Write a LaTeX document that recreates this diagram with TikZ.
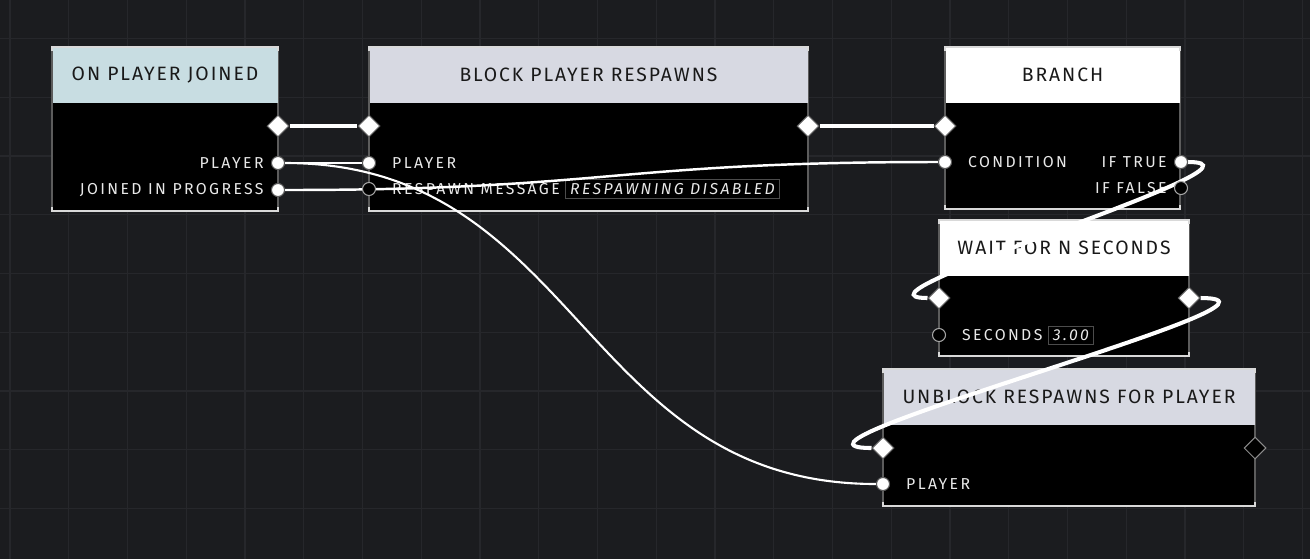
\documentclass[tikz,border=0pt]{standalone}
\usepackage{fontspec}
\setmainfont{Fira Sans}
\newfontfamily\headfont[LetterSpace=10]{Fira Sans}
\newfontfamily\pinfont[LetterSpace=15]{Fira Sans}
\usetikzlibrary{shapes.geometric,positioning}

\definecolor{canvas}{RGB}{27,28,31}
\definecolor{gridcol}{RGB}{38,39,43}
\definecolor{headblue}{RGB}{200,221,226}
\definecolor{headgrey}{RGB}{215,217,226}
\definecolor{rimgrey}{RGB}{92,92,92}
\definecolor{pintext}{RGB}{232,232,232}

\pgfdeclarelayer{pinlayer}
\pgfsetlayers{main,pinlayer}

\def\pu{0.02cm}
\def\headh{56}
\tikzset{
  blockbody/.style n args={2}{
    rectangle,
    fill=black,
    draw=rimgrey,
    line width=0.6pt,
    minimum width=#1*\pu,
    minimum height=#2*\pu,
    inner sep=0pt,
    outer sep=0pt,
  },
  blockhead/.style={
    rectangle,
    fill=#1,
    minimum height=\headh*\pu,
    inner sep=0pt,
    outer sep=0pt,
    anchor=north,
    text=black!90,
    font=\headfont\fontsize{11}{12}\selectfont,
  },
  rim/.style={white!85!black, line width=0.9pt},
}
\tikzset{
  execpin/.style={
    diamond,
    minimum size=12.5pt,
    inner sep=0pt,
    fill=white,
    draw=rimgrey,
    line width=0.6pt,
  },
  execfree/.style={execpin, fill=black, draw=white!55!black},
  datapin/.style={
    circle,
    minimum size=7.4pt,
    inner sep=0pt,
    fill=white,
    draw=rimgrey,
    line width=0.6pt,
  },
  datafree/.style={datapin, fill=black, draw=white!65!black},
  pinlabel/.style={
    inner sep=0pt,
    text=pintext,
    font=\pinfont\fontsize{9}{10}\selectfont,
  },
  valuebox/.style={
    draw=white!30!black,
    fill=black,
    line width=0.5pt,
    inner xsep=2.5pt,
    inner ysep=2pt,
    text=pintext,
    font=\pinfont\itshape\fontsize{9}{10}\selectfont,
  },
  execwire/.style={white, line width=2.3pt},
  datawire/.style={white, line width=1.4pt},
}

\begin{document}
\begin{tikzpicture}[x=\pu, y=-\pu]
    \useasboundingbox (0,0) rectangle (1310,559);
    \fill[canvas] (0,0) rectangle (1310,559);
    %% Grid
    \foreach \gx in {0,...,22}
        \draw[gridcol, line width=0.6pt] ({10+58.75*\gx},0) -- ({10+58.75*\gx},559);
    \foreach \gy in {0,...,8}
        \draw[gridcol, line width=0.6pt] (0,{38.5+58.75*\gy}) -- (1310,{38.5+58.75*\gy});

    %% Blocks
    \node[blockbody={226}{164}] (join) at (165,129) {};
    \node[blockhead=headblue, minimum width=225*\pu] (join-head) at (join.north) {ON PLAYER JOINED};
    \node[blockbody={439}{164}] (block) at (588.5,129) {};
    \node[blockhead=headgrey, minimum width=438*\pu] (block-head) at (block.north) {BLOCK PLAYER RESPAWNS};
    \node[blockbody={235}{162}] (branch) at (1062.5,128) {};
    \node[blockhead=white, minimum width=234*\pu] (branch-head) at (branch.north) {BRANCH};
    \node[blockbody={250}{136}] (wait) at (1064,288) {};
    \node[blockhead=white, minimum width=249*\pu] (wait-head) at (wait.north) {WAIT FOR N SECONDS};
    \node[blockbody={372}{137}] (unblock) at (1069,437.5) {};
    \node[blockhead=headgrey, minimum width=371*\pu] (unblock-head) at (unblock.north) {UNBLOCK RESPAWNS FOR PLAYER};

    % top and bottom rims
    \foreach \blk in {join,block,branch,wait,unblock} {
        \draw[rim] (\blk.north west) ++(0,4) -- ++(0,-4) -- (\blk.north east) -- ++(0,4);
        \draw[rim] (\blk.south west) ++(0,-4) -- ++(0,4) -- (\blk.south east) -- ++(0,-4);
    }

    %% Pins
    \begin{pgfonlayer}{pinlayer}
    \node[execpin] (join-out) at (278,126) {};
    \node[datapin] (join-player) at (278,163) {};
    \node[datapin] (join-prog) at (278,190) {};
    \node[execpin] (block-in) at (369,126) {};
    \node[execpin] (block-out) at (808,126) {};
    \node[datapin] (block-player) at (369,163) {};
    \node[datafree] (block-msg) at (369,189) {};
    \node[execpin] (branch-in) at (945,126) {};
    \node[datapin] (branch-cond) at (945,162) {};
    \node[datapin] (branch-true) at (1181,162) {};
    \node[datafree] (branch-false) at (1181,188) {};
    \node[execpin] (wait-in) at (939,298) {};
    \node[execpin] (wait-out) at (1189,298) {};
    \node[datafree] (wait-secs) at (939,335) {};
    \node[execpin] (unblock-in) at (883,448) {};
    \node[execfree] (unblock-out) at (1255,448) {};
    \node[datapin] (unblock-player) at (883,484) {};
    \end{pgfonlayer}

    %% Pin labels
    \node[pinlabel, left=4pt of join-player] (join-playerlbl) {PLAYER};
    \node[pinlabel, left=4pt of join-prog] (join-proglbl) {JOINED IN PROGRESS};
    \node[pinlabel, right=9pt of block-player] (block-playerlbl) {PLAYER};
    \node[pinlabel, right=9pt of block-msg] (block-msglbl) {RESPAWN MESSAGE};
    \node[valuebox, right=3pt of block-msglbl] (block-msgval) {RESPAWNING DISABLED};
    \node[pinlabel, right=9pt of branch-cond] (branch-condlbl) {CONDITION};
    \node[pinlabel, left=4pt of branch-true] (branch-truelbl) {IF TRUE};
    \node[pinlabel, left=4pt of branch-false] (branch-falselbl) {IF FALSE};
    \node[pinlabel, right=9pt of wait-secs] (wait-secslbl) {SECONDS};
    \node[valuebox, right=3pt of wait-secslbl] (wait-secsval) {3.00};
    \node[pinlabel, right=9pt of unblock-player] (unblock-playerlbl) {PLAYER};

    %% Wires

    % exec flow
    \draw[execwire] (join-out) -- (block-in);
    \draw[execwire] (block-out) -- (branch-in);
    \draw[execwire] (branch-true) .. controls +(110,0) and +(-110,0) .. (wait-in);
    \draw[execwire] (wait-out) .. controls +(140,0) and +(-140,0) .. (unblock-in);

    % data
    \draw[datawire] (join-player) -- (block-player);
    \draw[datawire] (join-prog) .. controls +(333,0) and +(-333,0) .. (branch-cond);
    \draw[datawire, line width=1.2pt] (join-player) .. controls +(302,0) and +(-302,0) .. (unblock-player);

\end{tikzpicture}
\end{document}
